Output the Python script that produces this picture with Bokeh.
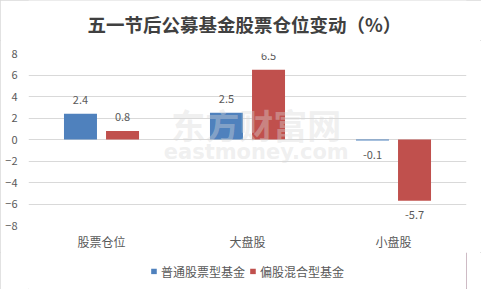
from bokeh.plotting import figure
from bokeh.layouts import column
from bokeh.models import (ColumnDataSource, FactorRange, FixedTicker, Label, Legend,
                          LegendItem)
from bokeh.transform import dodge
from bokeh.embed import file_html
from bokeh.resources import INLINE

title_text = "五一节后公募基金股票仓位变动（%）"
categories = ["股票仓位", "大盘股", "小盘股"]
series_names = ["普通股票型基金", "偏股混合型基金"]
stock_fund = [2.4, 2.5, -0.1]
mixed_fund = [0.8, 6.5, -5.7]
y_ticks = [-8, -6, -4, -2, 0, 2, 4, 6, 8]
colors = ["#4F81BD", "#C0504D"]

FONT = "Noto Sans CJK SC"
TXT = "#595959"

# title strip
t = figure(width=481, height=40, output_backend="svg", toolbar_location=None,
           x_axis_type=None, y_axis_type=None, min_border=0,
           x_range=(0, 481), y_range=(40, 0))
t.outline_line_color = None
t.grid.visible = False
t.add_layout(Label(x=237, y=23, text=title_text, text_font=FONT, text_font_size="18.5px",
                   text_font_style="bold", text_align="center", text_baseline="middle",
                   text_color="#404040"))

p = figure(width=481, height=212, x_range=FactorRange(*categories), y_range=(-8, 8),
           output_backend="svg", toolbar_location=None,
           min_border_left=28, min_border_right=15, min_border_top=13, min_border_bottom=25)
p.background_fill_color = "white"
p.border_fill_color = "white"
p.outline_line_color = None

p.xgrid.grid_line_color = None
p.ygrid.grid_line_color = "#D9D9D9"
p.ygrid.grid_line_width = 1
p.yaxis.ticker = FixedTicker(ticks=y_ticks)
for ax in (p.xaxis, p.yaxis):
    ax.axis_line_color = None
    ax.major_tick_line_color = None
    ax.minor_tick_line_color = None
    ax.major_label_text_color = TXT
    ax.major_label_text_font = FONT
p.yaxis.major_label_text_font_size = "11px"
p.yaxis.major_label_standoff = 5
p.xaxis.major_label_text_font_size = "12px"
p.xaxis.major_label_standoff = 1

offsets = [-0.144, 0.144]
for vals, col, off in zip([stock_fund, mixed_fund], colors, offsets):
    src = ColumnDataSource(dict(
        cat=categories, val=vals,
        lab=[f"{v:.1f}" for v in vals],
        yoff=[-14 if v >= 0 else 14 for v in vals],
    ))
    p.vbar(x=dodge("cat", off, range=p.x_range), top="val", bottom=0, width=0.226,
           source=src, fill_color=col, line_color=None)
    p.text(x=dodge("cat", off, range=p.x_range), y="val", text="lab", y_offset="yoff",
           source=src, text_align="center", text_baseline="middle",
           text_font_size="11px", text_color=TXT, text_font={"value": FONT})

# faint watermark
p.add_layout(Label(x=1.56, y=1.4, text="东方财富网", text_font=FONT, text_font_size="34px",
                   text_font_style="bold", text_align="center", text_baseline="middle",
                   text_color="#d8d8d8", text_alpha=0.4))
p.add_layout(Label(x=1.56, y=-1.2, text="eastmoney.com", text_font="DejaVu Sans",
                   text_font_size="21px", text_font_style="bold", text_align="center",
                   text_baseline="middle", text_color="#d8d8d8", text_alpha=0.4))

# legend strip below the chart
q = figure(width=481, height=37, output_backend="svg", toolbar_location=None,
           x_axis_type=None, y_axis_type=None, min_border=0,
           x_range=(0, 1), y_range=(0, 1))
q.outline_line_color = None
q.grid.visible = False
items = []
for name, col in zip(series_names, colors):
    r = q.vbar(x=[5], top=[1], width=0.1, fill_color=col, line_color=None)
    items.append(LegendItem(label=name, renderers=[r]))
legend = Legend(items=items, orientation="horizontal", location="center",
                label_text_font=FONT, label_text_font_size="12px", label_text_color=TXT,
                glyph_width=7, glyph_height=7, label_standoff=4, spacing=4,
                border_line_color=None, background_fill_alpha=0,
                padding=2, margin=0)
q.add_layout(legend, "center")

layout = column(t, p, q, spacing=0,
                styles={"outline": "1px solid #D9D9D9", "outline-offset": "-1px"})

open("out.html", "w").write(file_html(layout, INLINE))
